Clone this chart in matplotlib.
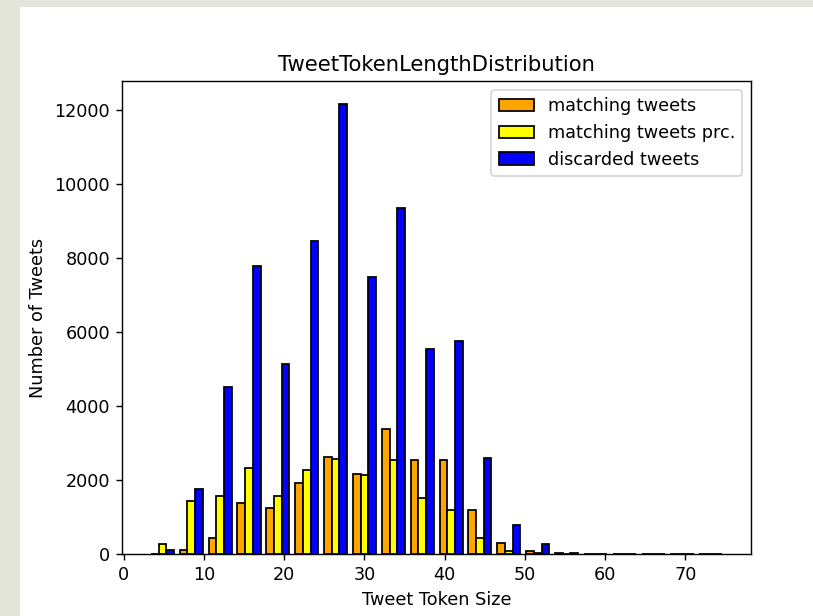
import numpy as np
import matplotlib
matplotlib.use('Agg')
import matplotlib.pyplot as plt
from matplotlib.patches import Rectangle

# %% Data (20 bins between 3 and 75 tokens)
bin_lo = 3
bin_hi = 75
n_bins = 20

matching = [5, 100, 432, 1369, 1234, 1928, 2613, 2171, 3378, 2550,
            2550, 1198, 300, 90, 40, 0, 0, 0, 0, 0]
matching_prc = [275, 1441, 1577, 2315, 1577, 2270, 2577, 2126, 2550, 1505,
                1189, 423, 85, 20, 10, 0, 0, 0, 0, 0]
discarded = [95, 1757, 4523, 7775, 5144, 8468, 12171, 7495, 9342, 5531,
             5766, 2586, 784, 270, 40, 0, 0, 0, 0, 0]

labels = ['matching tweets', 'matching tweets prc.', 'discarded tweets']
colors = ['orange', 'yellow', 'blue']

# %% Figure (screenshot of a scaled default-size figure)
dpi = 126.7
fig = plt.figure(figsize=(813 / dpi, 616 / dpi), dpi=dpi)
fig.patch.set_facecolor('#e3e4da')
fig.add_artist(Rectangle((20 / 813, 0), 1, (616 - 7) / 616,
                         transform=fig.transFigure, facecolor='white',
                         edgecolor='none', zorder=0))

ax = fig.add_axes([122.3 / 813, 62 / 616, 628.7 / 813, 472.7 / 616])

edges = np.linspace(bin_lo, bin_hi, n_bins + 1)
centers = (edges[:-1] + edges[1:]) / 2
ax.hist([centers, centers, centers], bins=edges,
        weights=[matching, matching_prc, discarded],
        color=colors, label=labels, edgecolor='black')

ax.set_title('TweetTokenLengthDistribution')
ax.set_xlabel('Tweet Token Size')
ax.set_ylabel('Number of Tweets')
ax.legend(loc='upper right')

fig.savefig('out.png', dpi=dpi, facecolor=fig.get_facecolor())
